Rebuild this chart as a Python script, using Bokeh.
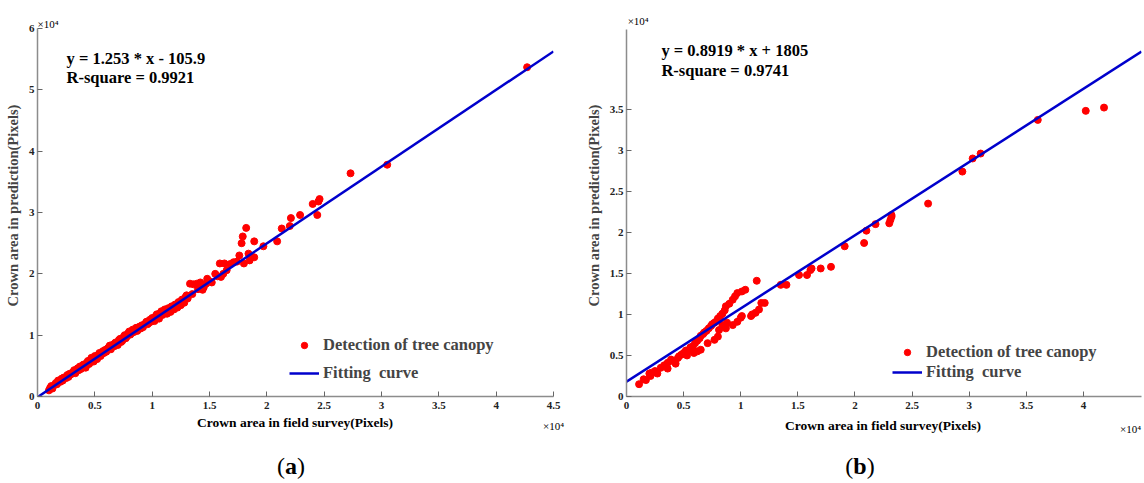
from bokeh.plotting import figure
from bokeh.models import (Range1d, FixedTicker, NumeralTickFormatter, Label,
                          Legend, LegendItem, Div)
from bokeh.layouts import row, column
from bokeh.embed import file_html
from bokeh.resources import INLINE

# ---------------- data (units of 10^4 pixels) ----------------
# Panel (a)
a_x = [0.10, 0.11, 0.12, 0.13, 0.15, 0.16, 0.17, 0.18, 0.20, 0.21,
       0.22, 0.23, 0.25, 0.26, 0.27, 0.28, 0.29, 0.31, 0.32, 0.33,
       0.34, 0.35, 0.36, 0.37, 0.38, 0.40, 0.41, 0.42, 0.43, 0.44,
       0.45, 0.46, 0.47, 0.48, 0.49, 0.50, 0.51, 0.52, 0.53, 0.54,
       0.55, 0.56, 0.57, 0.58, 0.59, 0.60, 0.61, 0.62, 0.63, 0.64,
       0.65, 0.66, 0.67, 0.68, 0.69, 0.70, 0.71, 0.72, 0.73, 0.74,
       0.75, 0.76, 0.77, 0.78, 0.79, 0.80, 0.81, 0.82, 0.83, 0.84,
       0.85, 0.86, 0.87, 0.88, 0.89, 0.90, 0.91, 0.92, 0.93, 0.94,
       0.95, 0.96, 0.97, 0.98, 0.99, 1.00, 1.01, 1.02, 1.03, 1.04,
       1.05, 1.06, 1.07, 1.08, 1.09, 1.10, 1.11, 1.12, 1.13, 1.14,
       1.15, 1.16, 1.17, 1.18, 1.19, 1.20, 1.21, 1.22, 1.23, 1.24,
       1.25, 1.26, 1.27, 1.28, 1.29, 1.30, 1.31, 1.33, 1.36, 1.39,
       1.35, 1.40, 1.42, 1.44, 1.45, 1.47, 1.48, 1.50, 1.52, 1.55,
       1.57, 1.59, 1.60, 1.62, 1.63, 1.65, 1.68, 1.71, 1.74, 1.76,
       1.78, 1.79, 1.80, 1.82, 1.84, 1.85, 1.89, 1.89, 1.97, 2.09,
       2.13, 2.20, 2.21, 2.29, 2.40, 2.44, 2.45, 2.46, 2.73, 3.05,
       4.27]
a_y = [0.10, 0.14, 0.17, 0.13, 0.19, 0.22, 0.20, 0.26, 0.24, 0.29,
       0.26, 0.31, 0.30, 0.35, 0.32, 0.37, 0.36, 0.40, 0.43, 0.38,
       0.41, 0.46, 0.43, 0.49, 0.45, 0.52, 0.50, 0.47, 0.55, 0.58,
       0.53, 0.56, 0.63, 0.60, 0.57, 0.66, 0.64, 0.61, 0.68, 0.71,
       0.66, 0.69, 0.74, 0.71, 0.76, 0.73, 0.78, 0.80, 0.83, 0.77,
       0.81, 0.85, 0.82, 0.88, 0.86, 0.84, 0.92, 0.94, 0.89, 0.91,
       0.97, 1.00, 0.95, 0.98, 1.03, 1.06, 1.01, 1.04, 1.09, 1.05,
       1.08, 1.12, 1.07, 1.10, 1.14, 1.11, 1.16, 1.13, 1.17, 1.19,
       1.22, 1.18, 1.20, 1.25, 1.22, 1.28, 1.26, 1.23, 1.31, 1.34,
       1.30, 1.27, 1.36, 1.39, 1.33, 1.37, 1.42, 1.40, 1.35, 1.44,
       1.41, 1.38, 1.47, 1.45, 1.42, 1.50, 1.48, 1.45, 1.54, 1.52,
       1.49, 1.58, 1.56, 1.53, 1.62, 1.65, 1.60, 1.84, 1.83, 1.84,
       1.67, 1.75, 1.86, 1.74, 1.78, 1.84, 1.92, 1.88, 1.86, 2.00,
       1.96, 2.17, 1.95, 2.00, 2.17, 2.06, 2.16, 2.19, 2.20, 2.30,
       2.50, 2.61, 2.17, 2.75, 2.33, 2.22, 2.27, 2.53, 2.45, 2.53,
       2.74, 2.78, 2.91, 2.96, 3.14, 2.96, 3.18, 3.22, 3.64, 3.78,
       5.37]
a_slope, a_intercept = 1.253, -105.9 / 1e4
a_eq = "y = 1.253 * x - 105.9"
a_r2 = "R-square = 0.9921"
a_xticks = [0, 0.5, 1, 1.5, 2, 2.5, 3, 3.5, 4, 4.5]
a_yticks = [0, 1, 2, 3, 4, 5, 6]

# Panel (b)
b_x = [0.11, 0.15, 0.17, 0.20, 0.21, 0.22, 0.25, 0.27, 0.30, 0.33,
       0.36, 0.36, 0.39, 0.41, 0.43, 0.45, 0.46, 0.48, 0.50, 0.52,
       0.53, 0.55, 0.56, 0.58, 0.59, 0.60, 0.62, 0.62, 0.64, 0.65,
       0.65, 0.67, 0.68, 0.70, 0.71, 0.72, 0.74, 0.75, 0.77, 0.77,
       0.79, 0.80, 0.80, 0.81, 0.82, 0.84, 0.84, 0.86, 0.87, 0.87,
       0.88, 0.90, 0.93, 0.93, 0.95, 0.97, 0.97, 1.00, 1.01, 1.01,
       1.04, 1.09, 1.10, 1.13, 1.14, 1.16, 1.18, 1.21, 1.35, 1.40,
       1.51, 1.58, 1.61, 1.62, 1.70, 1.79, 1.91, 2.08, 2.10, 2.18,
       2.30, 2.31, 2.32, 2.32, 2.64, 2.94, 3.03, 3.10, 3.60, 4.02,
       4.18]
b_y = [0.15, 0.21, 0.20, 0.28, 0.25, 0.29, 0.31, 0.28, 0.35, 0.38,
       0.41, 0.34, 0.45, 0.43, 0.40, 0.47, 0.49, 0.51, 0.53, 0.56,
       0.50, 0.57, 0.60, 0.61, 0.53, 0.65, 0.55, 0.68, 0.71, 0.57,
       0.74, 0.76, 0.78, 0.80, 0.65, 0.83, 0.86, 0.88, 0.69, 0.90,
       0.92, 0.73, 0.95, 0.81, 0.98, 0.87, 1.01, 1.05, 0.83, 1.10,
       0.90, 1.13, 0.87, 1.18, 1.22, 0.91, 1.26, 0.96, 1.28, 0.98,
       1.30, 0.98, 1.00, 1.02, 1.41, 1.06, 1.14, 1.14, 1.36, 1.36,
       1.48, 1.48, 1.54, 1.56, 1.56, 1.58, 1.83, 1.87, 2.02, 2.10,
       2.11, 2.15, 2.19, 2.21, 2.35, 2.74, 2.90, 2.96, 3.37, 3.48,
       3.52]
b_slope, b_intercept = 0.8919, 1805 / 1e4
b_eq = "y = 0.8919 * x + 1805"
b_r2 = "R-square = 0.9741"
b_xticks = [0, 0.5, 1, 1.5, 2, 2.5, 3, 3.5, 4]
b_yticks = [0, 0.5, 1, 1.5, 2, 2.5, 3, 3.5]

x_title = "Crown area in field survey(Pixels)"
y_title = "Crown area in prediction(Pixels)"
legend_labels = ["Detection of tree canopy", "Fitting  curve"]
mult = "×10⁴"

SERIF = "Liberation Serif"
RED = "#ff0000"
BLUE = "#0000cc"


def panel(xs, ys, slope, icpt, eq, r2, xticks, yticks, xr, yr, ybounds,
          width, borders, pos):
    left, right, top, bottom = borders
    p = figure(width=width, height=414, x_range=Range1d(*xr), y_range=Range1d(*yr),
               output_backend="svg", toolbar_location=None,
               min_border_left=left, min_border_right=right,
               min_border_top=top, min_border_bottom=bottom)
    p.grid.visible = False
    p.outline_line_color = None
    p.background_fill_color = "white"
    p.border_fill_color = "white"

    for ax in (p.xaxis[0], p.yaxis[0]):
        ax.axis_line_color = "#8c8c8c"
        ax.axis_line_width = 1.5
        ax.major_tick_line_color = "#666666"
        ax.major_tick_in = 5
        ax.major_tick_out = 0
        ax.minor_tick_line_color = None
        ax.major_label_text_font = SERIF
        ax.major_label_text_font_style = "bold"
        ax.major_label_text_font_size = "11px"
        ax.major_label_text_color = "#222222"
        ax.formatter = NumeralTickFormatter(format="0.[0]")
    p.xaxis[0].ticker = FixedTicker(ticks=xticks)
    p.yaxis[0].ticker = FixedTicker(ticks=yticks)
    p.yaxis[0].bounds = ybounds
    p.xaxis[0].major_label_standoff = 5
    p.yaxis[0].major_label_standoff = 3
    p.yaxis[0].axis_label = y_title
    p.yaxis[0].axis_label_text_font = SERIF
    p.yaxis[0].axis_label_text_font_style = "bold"
    p.yaxis[0].axis_label_text_font_size = "14.5px"
    p.yaxis[0].axis_label_standoff = 5

    sc = p.scatter(xs, ys, size=7, color=RED, line_color=RED)
    lx = [xr[0], xr[1]]
    ly = [slope * v + icpt for v in lx]
    ln = p.line(lx, ly, line_color=BLUE, line_width=2.5)

    legend = Legend(items=[LegendItem(label=legend_labels[0], renderers=[sc]),
                           LegendItem(label=legend_labels[1], renderers=[ln])],
                    location=pos["legend"], padding=0, margin=0,
                    spacing=pos["spacing"], glyph_width=30, glyph_height=16,
                    label_height=16, label_standoff=4, border_line_color=None,
                    background_fill_alpha=0,
                    label_text_font=SERIF, label_text_font_style="bold",
                    label_text_font_size="16.5px")
    p.add_layout(legend)

    def lab(x, y, text, size, style="bold"):
        p.add_layout(Label(x=x, y=y, text=text, text_font=SERIF,
                           text_font_style=style, text_font_size=size,
                           text_align="left", text_baseline="middle",
                           text_color="black"))

    lab(pos["eq"][0], pos["eq"][1], eq, "16.5px")
    lab(pos["r2"][0], pos["r2"][1], r2, "16.5px")
    lab(pos["m1"][0], pos["m1"][1], mult, "11px", style="normal")
    return p


pa = panel(a_x, a_y, a_slope, a_intercept, a_eq, a_r2, a_xticks, a_yticks,
           (0, 4.5), (0, 6.23), (0, 6), 572, (37, 19, 14, 18),
           {"legend": (252, 13), "spacing": 8,
            "eq": (0.253, 5.51), "r2": (0.253, 5.20), "m1": (0.0, 6.08)})

pb = panel(b_x, b_y, b_slope, b_intercept, b_eq, b_r2, b_xticks, b_yticks,
           (0, 4.508), (0, 4.654), (0, 4.47), 572, (54, 3, 14, 17),
           {"legend": (266, 14), "spacing": -1,
            "eq": (0.306, 4.216), "r2": (0.306, 3.973), "m1": (0.01, 4.57)})


def span(x, y, text, size, weight="bold"):
    return ('<span style="position:absolute;left:%dpx;top:%dpx;'
            'transform:translate(-50%%,-50%%);white-space:nowrap;'
            'font-size:%s;font-weight:%s;line-height:1;">%s</span>'
            % (x, y, size, weight, text))


def span_left(x, y, text, size, weight="normal"):
    return ('<span style="position:absolute;left:%dpx;top:%dpx;'
            'transform:translateY(-50%%);white-space:nowrap;'
            'font-size:%s;font-weight:%s;line-height:1;">%s</span>'
            % (x, y, size, weight, text))


html = ('<div style="position:relative;width:1144px;height:69px;'
        "font-family:'Liberation Serif',serif;color:#000;\">"
        + span(295, 9, x_title, "13.5px")
        + span_left(543, 12, mult, "11px")
        + span(883, 12, x_title, "13.5px")
        + span_left(1120, 15, mult, "11px")
        + span(291, 52, "(<b>a</b>)", "24px", "normal")
        + span(860, 52, "(<b>b</b>)", "24px", "normal")
        + "</div>")
div = Div(text=html, width=1144, height=69, margin=0)

layout = column(row(pa, pb), div)
open("out.html", "w").write(file_html(layout, INLINE))
